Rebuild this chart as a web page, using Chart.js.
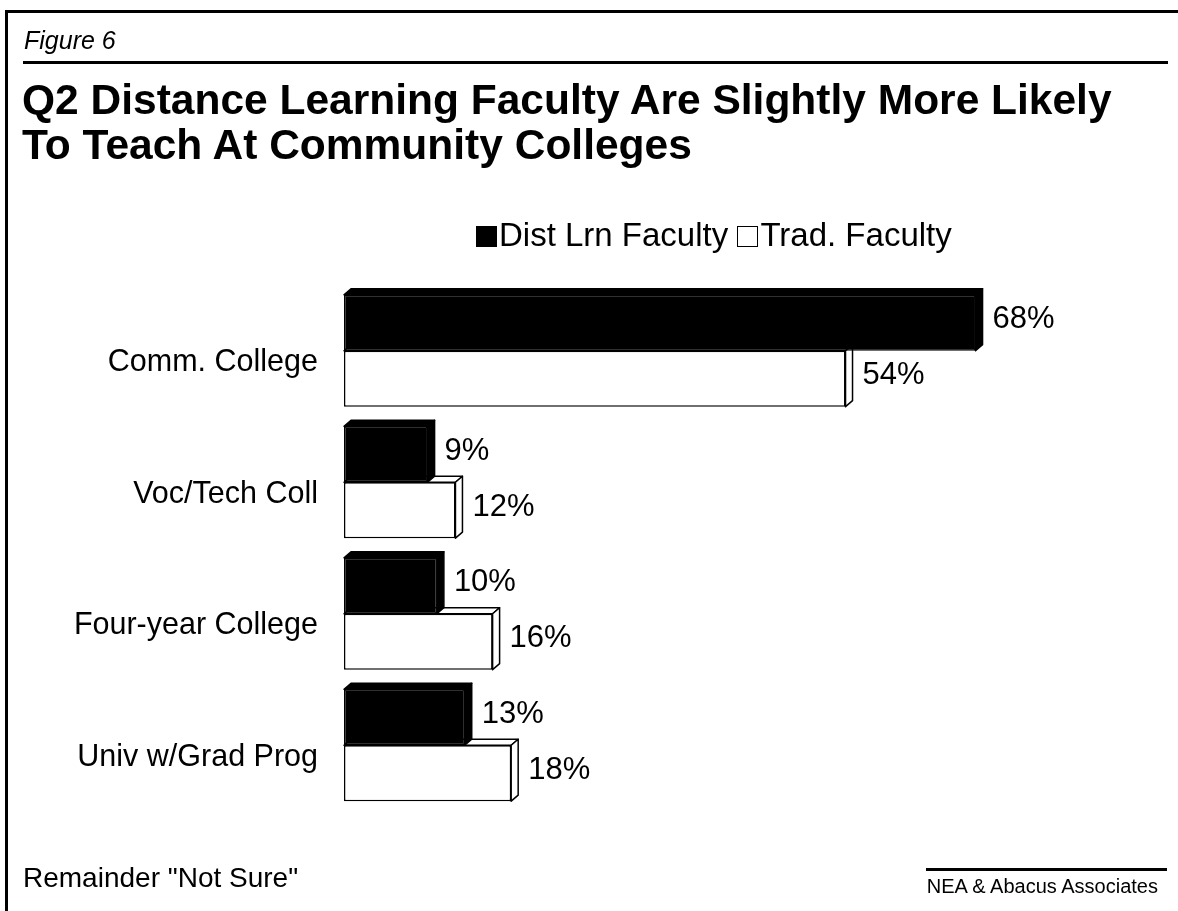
<!DOCTYPE html>
<html>
<head>
<meta charset="utf-8">
<script src="https://cdn.jsdelivr.net/npm/chart.js@4.4.1/dist/chart.umd.min.js"></script>
<style>
  html, body { margin: 0; padding: 0; background: #fff; }
  body { width: 1178px; height: 911px; position: relative; overflow: hidden;
         font-family: "Liberation Sans", Arial, sans-serif; color: #000; }
  .abs { position: absolute; }
  #chartBox { position: absolute; left: 0; top: 0; width: 1178px; height: 911px; }
  .fig { left: 24px; top: 26px; font-size: 25px; font-style: italic; }
  .title { left: 22px; top: 77px; font-size: 42.5px; font-weight: bold; line-height: 45px; white-space: nowrap; }
  .legend { left: 476px; top: 216px; font-size: 33px; white-space: nowrap; }
  .legend .sw { display: inline-block; width: 19px; height: 19px; border: 1.5px solid #000;
                vertical-align: -1px; margin-right: 2px; }
  .foot { left: 23px; top: 862px; font-size: 28px; }
  .src { right: 20px; top: 875px; font-size: 20px; }
</style>
</head>
<body>
<div id="chartBox"><canvas id="chart"></canvas></div>

<div class="abs" style="left:6px; top:10px; right:0; height:3px; background:#000;"></div>
<div class="abs" style="left:5px; top:10px; bottom:0; width:3px; background:#000;"></div>
<div class="abs fig">Figure 6</div>
<div class="abs" style="left:23px; top:61px; width:1145px; height:3px; background:#000;"></div>
<div class="abs title">Q2 Distance Learning Faculty Are Slightly More Likely<br>To Teach At Community Colleges</div>
<div class="abs legend"><span class="sw" style="background:#000"></span>Dist Lrn Faculty <span class="sw" style="background:#fff"></span>Trad. Faculty</div>
<div class="abs foot">Remainder "Not Sure"</div>
<div class="abs" style="left:926px; top:868px; width:241px; height:3px; background:#000;"></div>
<div class="abs src">NEA &amp; Abacus Associates</div>

<script>
// data
const categories = ['Comm. College', 'Voc/Tech Coll', 'Four-year College', 'Univ w/Grad Prog'];
const distLrnFaculty = [68, 9, 10, 13];
const tradFaculty = [54, 12, 16, 18];
const seriesNames = ['Dist Lrn Faculty', 'Trad. Faculty'];

// 3D depth of the bars (px)
const DX = 7;
const DY = 6;

// draws the top and right faces of each bar, right after its dataset
const depthPlugin = {
  id: 'depth3d',
  afterDatasetDraw(chart, args) {
    const ctx = chart.ctx;
    const ds = chart.data.datasets[args.index];
    args.meta.data.forEach(bar => {
      const p = bar.getProps(['x', 'y', 'base', 'height'], true);
      const top = p.y - p.height / 2;
      const bottom = p.y + p.height / 2;
      ctx.save();
      ctx.fillStyle = ds.backgroundColor;
      ctx.strokeStyle = '#000';
      ctx.lineWidth = 1.5;
      ctx.lineJoin = 'round';
      // top face
      ctx.beginPath();
      ctx.moveTo(p.base, top);
      ctx.lineTo(p.base + DX, top - DY);
      ctx.lineTo(p.x + DX, top - DY);
      ctx.lineTo(p.x, top);
      ctx.closePath();
      ctx.fill();
      ctx.stroke();
      // right face
      ctx.beginPath();
      ctx.moveTo(p.x, top);
      ctx.lineTo(p.x + DX, top - DY);
      ctx.lineTo(p.x + DX, bottom - DY);
      ctx.lineTo(p.x, bottom);
      ctx.closePath();
      ctx.fill();
      ctx.stroke();
      ctx.restore();
    });
  }
};

// percentage labels to the right of the bars
const valueLabels = {
  id: 'valueLabels',
  afterDatasetsDraw(chart) {
    const ctx = chart.ctx;
    ctx.save();
    ctx.font = '31px "Liberation Sans", Arial, sans-serif';
    ctx.fillStyle = '#000';
    ctx.textAlign = 'left';
    ctx.textBaseline = 'middle';
    chart.data.datasets.forEach((ds, i) => {
      chart.getDatasetMeta(i).data.forEach((bar, j) => {
        ctx.fillText(ds.data[j] + '%', bar.x + DX + 10, bar.y - 3);
      });
    });
    ctx.restore();
  }
};

const ctx = document.getElementById('chart').getContext('2d');
new Chart(ctx, {
  type: 'bar',
  data: {
    labels: categories,
    datasets: [{
      label: seriesNames[0],
      data: distLrnFaculty,
      backgroundColor: '#000',
      borderColor: '#000',
      borderWidth: 1.5,
      borderSkipped: false
    }, {
      label: seriesNames[1],
      data: tradFaculty,
      backgroundColor: '#fff',
      borderColor: '#000',
      borderWidth: 1.5,
      borderSkipped: false
    }]
  },
  options: {
    indexAxis: 'y',
    responsive: true,
    maintainAspectRatio: false,
    animation: false,
    categoryPercentage: 0.85,
    barPercentage: 1,
    layout: {
      padding: { top: 285, bottom: 100, right: 91, left: 0 }
    },
    plugins: {
      legend: { display: false },
      tooltip: { enabled: false }
    },
    scales: {
      x: {
        display: false,
        min: 0,
        max: 80
      },
      y: {
        afterFit: function(scale) { scale.width = 344; },
        grid: { display: false, drawTicks: false },
        border: { display: false },
        ticks: {
          color: '#000',
          padding: 26,
          labelOffset: 12,
          font: { family: '"Liberation Sans", Arial, sans-serif', size: 30.5 }
        }
      }
    }
  },
  plugins: [depthPlugin, valueLabels]
});
</script>
</body>
</html>
